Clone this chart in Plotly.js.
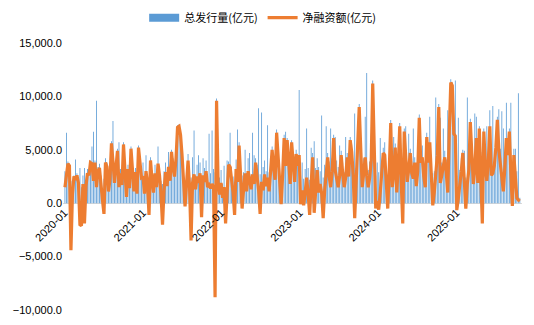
<!DOCTYPE html>
<html><head><meta charset="utf-8">
<script src="https://cdn.plot.ly/plotly-3.0.1.min.js"></script>
<style>html,body{margin:0;padding:0;background:#fff;}#chart{width:534px;height:325px;}</style>
</head><body><div id="chart"></div>
<script>
const firstWeek = '2020-01-03';
const seriesNames = ['总发行量(亿元)', '净融资额(亿元)'];
const yTicks = [-10000, -5000, 0, 5000, 10000, 15000];

const iss2020 = [3000,6600,3900,3700,2100,1200,2600,4100,2800,2200,3300,1500,2600,3300,1900,3200,3000,4000,5300,6700,4000,9600,3400,3700,2600,1400,2300,4200,3800,2600,2900,5800,7700,2600,3800,5100,5700,3200,2400,5700,3400,2100,3600,2300,5300,4000,2200,3300,2000,5400,4000,3000];
const iss2021 = [3800,2400,4500,2600,1500,4300,3100,2200,3600,2400,5300,3500,2100,1800,3000,3800,2600,4800,3200,5000,4200,3400,5200,7300,7400,6700,5000,3300,2000,2900,4600,3500,2400,4300,6800,2600,3600,4500,3800,2200,4200,3300,4000,2700,6500,2800,6800,3200,2900,9800,3800,2400];
const iss2022 = [3100,1800,3500,1400,4000,3900,6600,3400,2500,2000,4100,6900,5700,3700,2600,2900,5000,2800,4200,4700,2700,6600,4500,4200,3600,8900,2700,8500,3400,4000,3000,7300,2900,4300,5300,4500,3800,6900,4900,3300,2500,4000,6400,6700,6100,4700,3400,5900,4400,3200,5000,4200];
const iss2023 = [10600,2600,3800,2300,3200,7000,3300,2200,5200,4700,5800,3300,4200,3400,3000,8200,2400,3600,7200,4700,3900,7000,4200,6400,6200,4000,3400,5400,4900,3800,2900,6200,4700,3600,6200,5500,3900,8400,3300,5300,9300,5700,3100,4200,8100,12200,3100,3900,6500,11500,6900,2600];
const iss2024 = [3800,2900,6100,4000,5200,5700,3000,2500,4200,7800,3400,6200,5600,2900,4300,7500,3900,3200,7000,7200,3500,6500,5100,3900,7000,4300,3300,4100,8300,4700,5400,3900,3100,6600,4700,8100,3700,2800,3000,9900,5200,9300,8000,3800,7000,4900,4100,8700,7100,11600,11300,7000];
const iss2025 = [11500,2600,8000,3100,4200,5000,4900,2400,9900,3700,7900,5400,3000,8400,8100,3200,7200,4800,2700,7000,4400,7200,4600,8700,3700,9100,4300,5900,8100,8800,5100,8600,7000,4200,9400,5200,7000,9400,2800,5100,5100,3000,10300,500];

const net2020 = [1500,2600,3700,3500,-4400,800,2500,2200,2600,1900,-2000,-2100,1800,-1900,1600,2800,2600,3800,3700,2100,3800,1500,3000,3300,2100,300,-1000,3800,3400,1100,2200,5600,3900,1900,3400,4900,1500,2800,1700,5500,3000,600,3200,1400,5100,3500,1100,2900,900,5200,3600,2400];
const net2021 = [2500,900,3000,1800,-1100,4000,2200,1000,2800,1500,3700,2600,800,-2000,1200,2900,1600,3400,2100,4800,3300,2500,4200,7100,7200,6400,4500,2200,-300,1800,4000,1500,-3500,1900,2700,1300,2500,1900,2800,-1300,2600,2000,3000,1500,1700,1400,1800,1500,-8800,9600,2000,800];
const net2022 = [1900,500,1500,-1900,1200,3600,3400,2200,1000,-1100,3200,2000,5400,2600,-500,1300,2800,1100,3000,2200,1300,2700,1800,3800,2500,1200,-1000,2000,1200,2700,1600,2400,1100,3200,5000,3300,2200,6600,4200,1800,-100,2600,6100,3500,5900,4000,1800,5700,3800,2000,4600,3500];
const net2023 = [4500,-100,1200,-200,1000,2400,800,-1100,1800,4300,-900,1500,3100,1000,1800,900,-1400,1200,2600,4300,2500,1500,3000,6100,3100,2200,1500,2600,4500,2800,1500,2400,4300,2500,5900,4800,2600,-1400,2200,4900,9000,5200,1500,2800,4300,2600,1500,2400,4000,11200,6500,-500];
const net2024 = [200,-600,1000,3200,4700,4500,1500,-500,3000,7500,1500,2800,5200,1000,3500,7200,2000,-1900,6700,4200,2000,3200,4700,2800,2300,3800,1600,3000,8000,3800,4300,2500,1500,6200,3800,5700,2200,-200,1000,2800,4500,9000,1900,2600,3500,4300,2800,1000,6700,11300,11000,6500];
const net2025 = [6300,-650,400,1500,3000,4700,2500,-500,1800,3100,7600,4200,1800,3200,6100,1900,7000,2500,-1900,6700,3500,2100,4000,7200,2600,2800,3500,5200,7800,5000,3500,2500,1100,3300,6100,4500,6700,2800,-250,4500,2200,500,300,200];

const issuance = [].concat(iss2020, iss2021, iss2022, iss2023, iss2024, iss2025);
const netFinancing = [].concat(net2020, net2021, net2022, net2023, net2024, net2025);

const weeks = [];
const t0 = Date.parse(firstWeek + 'T00:00:00Z');
for (let i = 0; i < issuance.length; i++) {
  weeks.push(new Date(t0 + i * 7 * 86400000).toISOString().slice(0, 10));
}

const font = {family: 'Liberation Sans, Arial, "Noto Sans CJK SC", sans-serif', size: 11, color: '#000'};

const traces = [
  {type: 'bar', name: seriesNames[0], x: weeks, y: issuance, showlegend: false,
   marker: {color: '#5B9BD5', line: {width: 0}}},
  // legend proxy so the bar series shows a wide rectangle key, as in the original
  {type: 'scatter', mode: 'lines', name: seriesNames[0], x: [null], y: [null],
   line: {color: '#5B9BD5', width: 8}},
  {type: 'scatter', mode: 'lines', name: seriesNames[1], x: weeks, y: netFinancing,
   line: {color: '#ED7D31', width: 3.2}}
];

const tStart = new Date(t0 - 9 * 86400000).toISOString().slice(0, 10);
const tEnd = new Date(t0 + (issuance.length - 1) * 7 * 86400000 + 10 * 86400000).toISOString().slice(0, 10);

const layout = {
  width: 534, height: 325,
  margin: {l: 63, r: 12, t: 43, b: 15, pad: 0, autoexpand: false},
  paper_bgcolor: '#fff', plot_bgcolor: '#fff',
  font: font,
  bargap: 0.45,
  showlegend: true,
  legend: {orientation: 'h', x: 0.435, xanchor: 'center', y: 1.095, yanchor: 'middle',
           font: {family: '"Noto Sans CJK SC", sans-serif', size: 11, color: '#000'},
           traceorder: 'normal', tracegroupgap: 0},
  xaxis: {type: 'date', range: [tStart, tEnd], anchor: 'free', position: 0.4,
          tick0: '2020-01-01', dtick: 'M12', tickformat: '%Y-%m', tickangle: -45,
          showgrid: false, zeroline: false, showline: false, ticks: '',
          tickfont: font},
  yaxis: {range: [-10000, 15000], tickvals: yTicks, tickformat: ',.1f',
          showgrid: false, zeroline: true, zerolinecolor: '#D9D9D9', zerolinewidth: 1,
          showline: false, ticks: '', tickfont: font},
  hovermode: false
};

Plotly.newPlot('chart', traces, layout, {displayModeBar: false, staticPlot: true});
</script>
</body></html>
